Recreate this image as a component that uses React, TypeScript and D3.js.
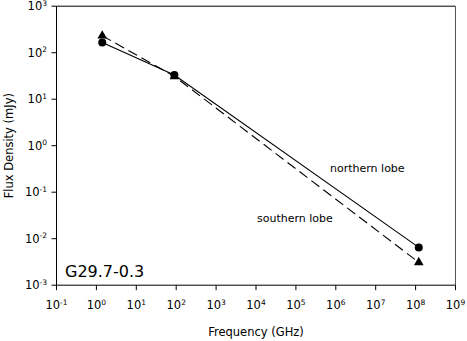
import React from "react";
import * as d3 from "d3";

const frequencies = [1.4, 90, 1.2e8];
const northernLobe = [165, 33, 0.0065];
const southernLobe = [232, 31, 0.0031];
const xTickExps = [-1, 0, 1, 2, 3, 4, 5, 6, 7, 8, 9];
const yTickExps = [-3, -2, -1, 0, 1, 2, 3];
const sourceName = "G29.7-0.3";
const labels = ["northern lobe", "southern lobe"];

const W = 467, H = 341;
const L = 56.5, R = 455.5, T = 6.2, B = 285.2;
const FONT = "DejaVu Sans, Verdana, sans-serif";

export default function App() {
  const x = d3.scaleLog().domain([1e-1, 1e9]).range([L, R]);
  const y = d3.scaleLog().domain([1e-3, 1e3]).range([B, T]);
  const line = d3.line<number>().x((_, i) => x(frequencies[i])).y((d) => y(d));
  const tri = d3.symbol().type(d3.symbolTriangle).size(40)();

  return (
    <svg width={W} height={H} style={{ position: "absolute", left: 0, top: 0 }} fontFamily={FONT}>
      <rect width={W} height={H} fill="#fff" />
      <line x1={L} x2={R} y1={T} y2={T} stroke="#000" strokeWidth={1} />
      <line x1={R} x2={R} y1={T} y2={B} stroke="#555" strokeWidth={1} />
      <line x1={L} x2={L} y1={T} y2={B} stroke="#000" strokeWidth={1} />
      <line x1={L} x2={R} y1={B} y2={B} stroke="#000" strokeWidth={1} />
      {xTickExps.map((e) => (
        <g key={"x" + e}>
          <line x1={x(Math.pow(10, e))} x2={x(Math.pow(10, e))} y1={B} y2={B + 5} stroke="#000" />
          <text x={x(Math.pow(10, e))} y={309} fontSize={11.5} textAnchor="middle">
            10<tspan fontSize={7.5} dy={-4.5}>{e}</tspan>
          </text>
        </g>
      ))}
      {yTickExps.map((e) => (
        <g key={"y" + e}>
          <line x1={L - 5} x2={L} y1={y(Math.pow(10, e))} y2={y(Math.pow(10, e))} stroke="#000" />
          <text x={47} y={y(Math.pow(10, e)) + 4.2} fontSize={11.5} textAnchor="end">
            10<tspan fontSize={7.5} dy={-4.5}>{e}</tspan>
          </text>
        </g>
      ))}
      <text x={256} y={336} fontSize={11.5} textAnchor="middle">Frequency (GHz)</text>
      <text transform={`translate(13,${(T + B) / 2}) rotate(-90)`} fontSize={11.5} textAnchor="middle">
        Flux Density (mJy)
      </text>
      <path d={line(northernLobe) || ""} fill="none" stroke="#000" strokeWidth={1.1} />
      <path d={line(southernLobe) || ""} fill="none" stroke="#000" strokeWidth={1.1} strokeDasharray="10,5" />
      {northernLobe.map((v, i) => (
        <circle key={"n" + i} cx={x(frequencies[i])} cy={y(v)} r={4} fill="#000" />
      ))}
      {southernLobe.map((v, i) => (
        <path key={"s" + i} d={tri || ""} transform={`translate(${x(frequencies[i])},${y(v)})`} fill="#000" />
      ))}
      <text x={330} y={172} fontSize={11}>{labels[0]}</text>
      <text x={257} y={222} fontSize={11}>{labels[1]}</text>
      <text x={65} y={277} fontSize={16}>{sourceName}</text>
    </svg>
  );
}
